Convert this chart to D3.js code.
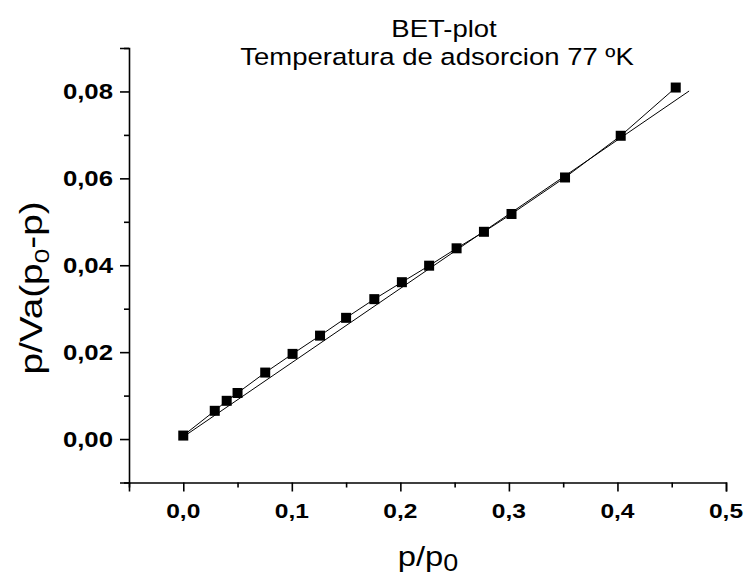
<!DOCTYPE html>
<html lang="es">
<head>
<meta charset="UTF-8" />
<title>BET-plot</title>
<script src="https://d3js.org/d3.v7.min.js"></script>
<style>
  body { margin: 0; background: #fff; }
  svg { display: block; font-family: "Liberation Sans", Arial, sans-serif; }
</style>
</head>
<body>
<script>
// measured points p/p0 vs p/Va(p0-p)
const relPressure = [0, 0.029, 0.040, 0.050, 0.0755, 0.1007, 0.126, 0.150, 0.176, 0.2014, 0.2265, 0.2518, 0.277, 0.3024, 0.3517, 0.403, 0.4537];
const betValue   = [0.0008, 0.0065, 0.0088, 0.0106, 0.0153, 0.0196, 0.0238, 0.0279, 0.0322, 0.0361, 0.0399, 0.0439, 0.0477, 0.0518, 0.0602, 0.0698, 0.0809];

// linear fit, drawn between its two ends
const fitX = [0, 0.466];
const fitY = [0.0005, 0.0801];

const xMajor = [0, 0.1, 0.2, 0.3, 0.4, 0.5];
const xMinor = [-0.05, 0.05, 0.15, 0.25, 0.35, 0.45];
const yMajor = [0, 0.02, 0.04, 0.06, 0.08];
const yMinor = [-0.01, 0.01, 0.03, 0.05, 0.07, 0.09];

const W = 745, H = 579;
const SX = 1.17; // the original figure's text runs wide

const svg = d3.select("body").append("svg")
  .attr("width", W).attr("height", H);

const x = d3.scaleLinear().domain([-0.05, 0.5]).range([129, 726]);
const y = d3.scaleLinear().domain([-0.01, 0.09]).range([482.5, 48]);

const comma = f => v => d3.format(f)(v).replace(".", ",");

// axes (ticks outward, minor ones shorter)
const xAxis = svg.append("g").attr("transform", `translate(0,${y(-0.01)})`);
xAxis.call(d3.axisBottom(x).tickValues(xMajor).tickSize(9).tickFormat(""));
xAxis.append("g").call(d3.axisBottom(x).tickValues(xMinor).tickSize(5).tickFormat(""));

const yAxis = svg.append("g").attr("transform", `translate(${x(-0.05)},0)`);
yAxis.call(d3.axisLeft(y).tickValues(yMajor).tickSize(9).tickFormat(""));
yAxis.append("g").call(d3.axisLeft(y).tickValues(yMinor).tickSize(5).tickFormat(""));

svg.selectAll(".domain").attr("stroke", "#000").attr("stroke-width", 1.6);
svg.selectAll(".tick line").attr("stroke", "#000").attr("stroke-width", 1.6);
svg.selectAll("g > g > .domain").remove();

// tick labels, bold
svg.append("g").selectAll("text")
  .data(xMajor)
  .join("text")
  .attr("transform", d => `translate(${x(d)},518) scale(${SX},1)`)
  .attr("text-anchor", "middle")
  .attr("font-size", 21)
  .attr("font-weight", "bold")
  .text(comma(".1f"));

svg.append("g").selectAll("text")
  .data(yMajor)
  .join("text")
  .attr("transform", d => `translate(113,${y(d) + 8}) scale(${SX},1)`)
  .attr("text-anchor", "end")
  .attr("font-size", 22)
  .attr("font-weight", "bold")
  .text(comma(".2f"));

// lines
const pts = relPressure.map((v, i) => [v, betValue[i]]);
const line = d3.line().x(d => x(d[0])).y(d => y(d[1]));

svg.append("path")
  .datum(fitX.map((v, i) => [v, fitY[i]]))
  .attr("d", line)
  .attr("fill", "none").attr("stroke", "#000").attr("stroke-width", 1);

svg.append("path")
  .datum(pts)
  .attr("d", line)
  .attr("fill", "none").attr("stroke", "#000").attr("stroke-width", 1);

svg.append("g").selectAll("rect")
  .data(pts)
  .join("rect")
  .attr("x", d => x(d[0]) - 5)
  .attr("y", d => y(d[1]) - 5)
  .attr("width", 10).attr("height", 10)
  .attr("fill", "#000");

// title
svg.append("text")
  .attr("transform", `translate(444,37) scale(${SX},1)`)
  .attr("text-anchor", "middle").attr("font-size", 23.5)
  .text("BET-plot");
svg.append("text")
  .attr("transform", `translate(437,65) scale(${SX},1)`)
  .attr("text-anchor", "middle").attr("font-size", 23.5)
  .text("Temperatura de adsorcion 77 ºK");

// axis titles
const xt = svg.append("text")
  .attr("transform", `translate(428,566) scale(${SX},1)`)
  .attr("text-anchor", "middle").attr("font-size", 28);
xt.append("tspan").text("p/p");
xt.append("tspan").attr("dy", 5).attr("font-size", 23).text("0");

const yt = svg.append("text")
  .attr("transform", `translate(42,288) rotate(-90) scale(1.25,1)`)
  .attr("text-anchor", "middle").attr("font-size", 31);
yt.append("tspan").text("p/Va(p");
yt.append("tspan").attr("dy", 7).attr("font-size", 21).text("0");
yt.append("tspan").attr("dy", -7).text("-p)");
</script>
</body>
</html>
